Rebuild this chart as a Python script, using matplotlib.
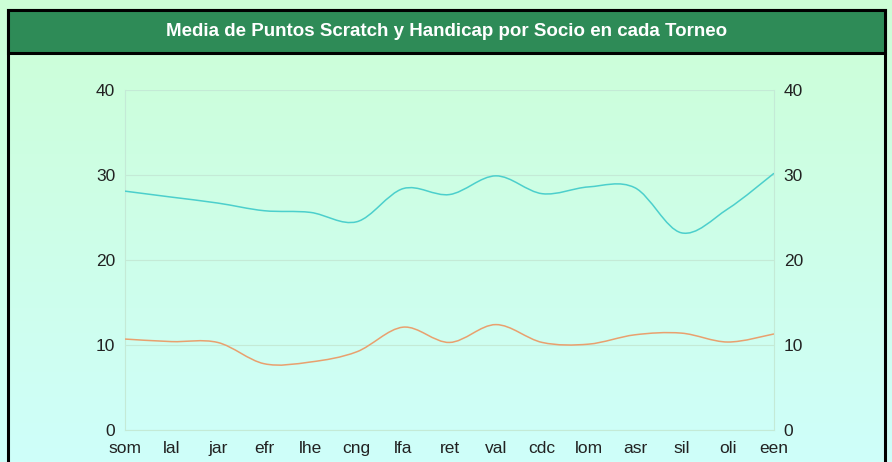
import numpy as np
import matplotlib
matplotlib.use("Agg")
import matplotlib.pyplot as plt
from matplotlib.path import Path
from matplotlib.patches import PathPatch, Rectangle

# data
torneos = ["som", "lal", "jar", "efr", "lhe", "cng", "lfa", "ret",
           "val", "cdc", "lom", "asr", "sil", "oli", "een"]
scratch = [28.1, 27.4, 26.7, 25.8, 25.6, 24.5, 28.4, 27.7,
           29.9, 27.8, 28.6, 28.5, 23.2, 26.0, 30.2]
handicap = [10.7, 10.4, 10.3, 7.8, 8.0, 9.2, 12.1, 10.3,
            12.4, 10.3, 10.1, 11.2, 11.4, 10.35, 11.3]
yticks = [0, 10, 20, 30, 40]
titulo = "Media de Puntos Scratch y Handicap por Socio en cada Torneo"

plt.rcParams['font.family'] = ['Liberation Sans', 'DejaVu Sans']


def smooth_path(xs, ys):
    # catmull-rom as cubic bezier segments
    p = np.column_stack([xs, ys]).astype(float)
    ext = np.vstack([p[0], p, p[-1]])
    verts = [p[0]]
    codes = [Path.MOVETO]
    for i in range(len(p) - 1):
        p0, p1, p2, p3 = ext[i], ext[i + 1], ext[i + 2], ext[i + 3]
        c1 = p1 + (p2 - p0) / 6.0
        c2 = p2 - (p3 - p1) / 6.0
        verts += [c1, c2, p2]
        codes += [Path.CURVE4] * 3
    return Path(verts, codes)


W, H = 892, 462
fig = plt.figure(figsize=(W / 100, H / 100), dpi=100)

# gradient background
bg = fig.add_axes([0, 0, 1, 1])
top = np.array([204, 254, 214]) / 255.
bot = np.array([207, 255, 250]) / 255.
t = np.linspace(0, 1, 256)[:, None, None]
grad = top * (1 - t) + bot * t
grad = np.repeat(grad, 2, axis=1)
bg.imshow(grad, aspect='auto', extent=[0, 1, 0, 1], origin='upper')
bg.set_xlim(0, 1)
bg.set_ylim(0, 1)
bg.axis('off')

# frame and title bar
fig.patches.append(Rectangle((8 / W, -0.1), 877 / W, 1.1 - 10 / H,
                             transform=fig.transFigure, fill=False,
                             edgecolor='black', lw=2.2, zorder=5))
fig.patches.append(Rectangle((8 / W, 1 - 53 / H), 877 / W, 43 / H,
                             transform=fig.transFigure, facecolor='#2e8b57',
                             edgecolor='black', lw=2.2, zorder=6))
fig.text(447 / W, 1 - 31 / H, titulo, color='white', fontsize=13.5,
         fontweight='bold', ha='center', va='center', zorder=7,
         family=['Liberation Sans Narrow', 'Liberation Sans'])

ax = fig.add_axes([125 / W, 1 - 430 / H, (774 - 125) / W, (430 - 90) / H])
ax.patch.set_alpha(0)
x = np.arange(len(torneos))
ax.set_xlim(0, len(torneos) - 1)
ax.set_ylim(0, 40)

ax.add_patch(PathPatch(smooth_path(x, scratch), fill=False,
                       edgecolor='#4ccfcc', lw=1.1, zorder=3))
ax.add_patch(PathPatch(smooth_path(x, handicap), fill=False,
                       edgecolor='#e9a06e', lw=1.1, zorder=3))

ax.set_yticks(yticks)
ax.set_xticks(x)
ax.set_xticklabels(torneos)
ax.grid(axis='y', color='#c4ead6', lw=0.8)
ax.tick_params(length=0, labelsize=12.5, colors='#222222',
               labelright=True, right=False)
ax.tick_params(axis='y', pad=7)
ax.tick_params(axis='x', pad=8)
for s in ['top']:
    ax.spines[s].set_visible(False)
for s in ['left', 'right', 'bottom']:
    ax.spines[s].set_color('#c4ead6')
    ax.spines[s].set_linewidth(0.8)

plt.savefig('out.png', dpi=100)
